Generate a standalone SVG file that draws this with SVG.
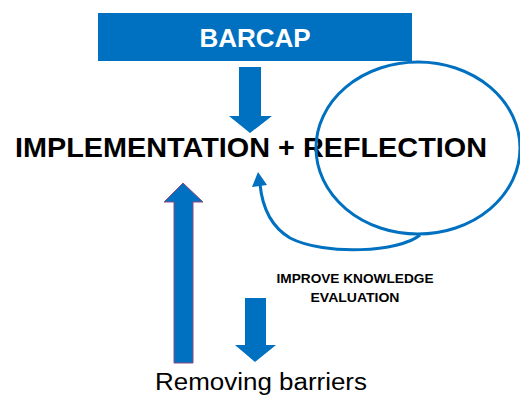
<svg xmlns="http://www.w3.org/2000/svg" width="520" height="395" viewBox="0 0 520 395">
  <style>
    .blue { fill: #0070C0; }
    .bold { font-family: "Liberation Sans", Arial, sans-serif; font-weight: bold; }
    .reg { font-family: "Liberation Sans", Arial, sans-serif; }
    .line { fill: none; stroke: #0070C0; stroke-width: 3; }
  </style>
  <rect width="520" height="395" fill="#FFFFFF"/>

  <g id="barcap">
    <rect class="blue" x="98" y="13" width="314" height="48"/>
    <text class="bold" x="255" y="47" font-size="26" fill="#FFFFFF" text-anchor="middle">BARCAP</text>
  </g>

  <g id="implementation-reflection">
    <text class="bold" x="15" y="157" font-size="28.5" fill="#000000" textLength="472" lengthAdjust="spacingAndGlyphs">IMPLEMENTATION + REFLECTION</text>
  </g>

  <g id="reflection-loop">
    <ellipse class="line" cx="418" cy="148" rx="102" ry="86"/>
  </g>

  <g id="improve-knowledge">
    <text class="bold" x="355" y="283" font-size="12.5" fill="#000000" text-anchor="middle" textLength="157" lengthAdjust="spacingAndGlyphs">IMPROVE KNOWLEDGE</text>
    <text class="bold" x="355" y="302" font-size="12.5" fill="#000000" text-anchor="middle" textLength="89" lengthAdjust="spacingAndGlyphs">EVALUATION</text>
  </g>

  <g id="removing-barriers">
    <text class="reg" x="155" y="390" font-size="23" fill="#000000" textLength="212" lengthAdjust="spacingAndGlyphs">Removing barriers</text>
  </g>

  <g id="connectors">
    <!-- block arrow from BARCAP down to the main line -->
    <polygon class="blue" points="239,67 261,67 261,116 272,116 250,133 229,116 239,116"/>
    <!-- feedback curve from the loop back under the main line -->
    <path class="line" d="M420,235 C400,252 325,256 290,238 C270,226 262,205 260,184"/>
    <polygon class="blue" points="258,172 252,187 267,185"/>
    <!-- tall up arrow on the left -->
    <polygon class="blue" points="174,363 193,363 193,202 203,202 183,183 164,202 174,202" stroke="#8E4B7E" stroke-width="1"/>
    <!-- small down arrow toward the bottom label -->
    <polygon class="blue" points="245,298 266,298 266,345 276,345 255,362 235,345 245,345"/>
  </g>
</svg>
